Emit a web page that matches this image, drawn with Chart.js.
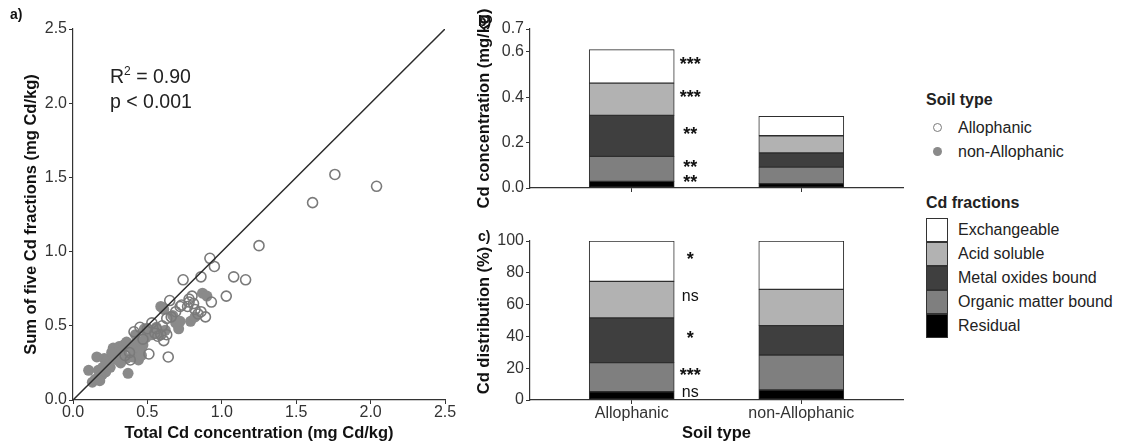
<!DOCTYPE html>
<html>
<head>
<meta charset="utf-8">
<script src="https://cdn.jsdelivr.net/npm/chart.js@4.4.1/dist/chart.umd.min.js"></script>
<style>
  body { margin: 0; background: #fff; font-family: "Liberation Sans", Arial, sans-serif; }
  #wrap { position: relative; width: 1122px; height: 445px; overflow: hidden; }
  canvas { position: absolute; }
  .txt { position: absolute; color: #111; white-space: nowrap; line-height: 1; }
  .bold { font-weight: bold; }
  .panel { font-size: 14px; font-weight: bold; }
  .stat { font-size: 19.5px; color: #222; }
  .leg { font-size: 16px; color: #222; }
  .dot { position: absolute; width: 9px; height: 9px; border-radius: 50%; box-sizing: border-box; }
  .box { position: absolute; width: 22px; height: 24px; box-sizing: border-box; border: 1px solid #333; }
</style>
</head>
<body>
<div id="wrap">
  <canvas id="scatter" width="470" height="445" style="left:0;top:0"></canvas>
  <canvas id="conc" width="440" height="220" style="left:470px;top:0"></canvas>
  <canvas id="dist" width="440" height="235" style="left:470px;top:210px"></canvas>

  <div class="txt panel" style="left:10px;top:7px">a)</div>
  <div class="txt panel" style="left:478px;top:14px">b)</div>
  <div class="txt panel" style="left:478px;top:229px">c)</div>

  <div class="txt stat" style="left:110px;top:65px">R<sup style="font-size:12px;vertical-align:8px">2</sup> = 0.90</div>
  <div class="txt stat" style="left:110px;top:92px">p &lt; 0.001</div>

  <div id="legend"></div>
</div>
<script>
// Soil samples: total Cd vs sum of the five extracted fractions (mg Cd/kg)
const alloTotal = [1.76, 2.04, 1.61, 1.25, 0.92, 0.95, 1.08, 1.16, 0.86, 0.74, 1.03, 0.93, 0.65, 0.80,
  0.78, 0.81, 0.77, 0.82, 0.86, 0.89, 0.69, 0.72, 0.63, 0.66, 0.41, 0.45, 0.59, 0.63, 0.61, 0.64,
  0.51, 0.385, 0.35, 0.56, 0.53, 0.60, 0.50, 0.38, 0.47, 0.57, 0.78, 0.84, 0.73, 0.55];
const alloSum = [1.52, 1.44, 1.33, 1.04, 0.955, 0.90, 0.83, 0.81, 0.83, 0.81, 0.70, 0.66, 0.67, 0.70,
  0.66, 0.65, 0.63, 0.61, 0.595, 0.56, 0.595, 0.63, 0.55, 0.56, 0.46, 0.49, 0.44, 0.44, 0.40, 0.29,
  0.31, 0.27, 0.30, 0.48, 0.52, 0.50, 0.48, 0.32, 0.41, 0.43, 0.68, 0.58, 0.64, 0.45];
const nonAlloTotal = [0.105, 0.13, 0.17, 0.16, 0.21, 0.195, 0.25, 0.27, 0.23, 0.31, 0.34, 0.37, 0.32,
  0.41, 0.44, 0.47, 0.50, 0.52, 0.55, 0.59, 0.61, 0.71, 0.69, 0.79, 0.82, 0.87, 0.90, 0.43, 0.36,
  0.15, 0.18, 0.22, 0.28, 0.26, 0.30, 0.33, 0.39, 0.45, 0.48, 0.53, 0.56, 0.58, 0.62, 0.67, 0.72,
  0.40, 0.36, 0.20, 0.24, 0.46, 0.42, 0.49];
const nonAlloSum = [0.20, 0.12, 0.20, 0.29, 0.28, 0.17, 0.22, 0.35, 0.27, 0.36, 0.37, 0.18, 0.25,
  0.34, 0.27, 0.37, 0.45, 0.47, 0.46, 0.63, 0.61, 0.48, 0.52, 0.53, 0.56, 0.72, 0.70, 0.40, 0.39,
  0.14, 0.13, 0.19, 0.30, 0.32, 0.27, 0.33, 0.35, 0.33, 0.48, 0.44, 0.49, 0.44, 0.47, 0.57, 0.53,
  0.29, 0.28, 0.22, 0.24, 0.30, 0.44, 0.42];
const oneToOne = [0, 2.5];
const scatterTicks = [0, 0.5, 1, 1.5, 2, 2.5];

// Fractions, stacked bottom to top
const soilTypes = ["Allophanic", "non-Allophanic"];
const fractions = ["Residual", "Organic matter bound", "Metal oxides bound", "Acid soluble", "Exchangeable"];
const fractionColors = ["#000000", "#7f7f7f", "#3f3f3f", "#b2b2b2", "#ffffff"];
const concAllo = [0.029, 0.110, 0.181, 0.142, 0.147];
const concNonAllo = [0.019, 0.073, 0.062, 0.076, 0.086];
const pctAllo = [5.2, 18.3, 28.1, 23.0, 25.4];
const pctNonAllo = [6.3, 22.0, 18.5, 22.8, 30.4];
const concSig = ["**", "**", "**", "***", "***"];
const pctSig = ["ns", "***", "*", "ns", "*"];
const concTicks = [0, 0.2, 0.4, 0.6, 0.7];
const pctTicks = [0, 20, 40, 60, 80, 100];

const FONT = '"Liberation Sans", Arial, sans-serif';
Chart.defaults.font.family = FONT;
Chart.defaults.font.size = 16;
Chart.defaults.color = "#333";
Chart.defaults.animation = false;

const AXIS = "#333";

function axis(opts) {
  const s = {
    type: "linear",
    min: opts.min,
    max: opts.max,
    offset: false,
    grid: { display: true, offset: false, drawOnChartArea: false, drawTicks: true, tickLength: 4, color: AXIS },
    border: { display: true, color: AXIS, width: 1.2 },
    ticks: {
      color: "#333",
      font: { size: 16 },
      padding: opts.pad ?? 2,
      autoSkip: false,
      maxRotation: 0,
      display: opts.labels !== false,
      callback: opts.fmt,
    },
    afterBuildTicks: (sc) => { sc.ticks = opts.ticks.map((v) => ({ value: v })); },
    afterFit: (sc) => { if (opts.w) sc.width = opts.w; if (opts.h) sc.height = opts.h; },
    title: opts.title ? {
      display: true,
      text: opts.title,
      color: "#111",
      font: { size: 16.5, weight: "bold" },
      padding: opts.titlePad,
    } : { display: false },
  };
  if (opts.stacked) s.stacked = true;
  return s;
}

const pts = (xs, ys) => xs.map((x, i) => ({ x, y: ys[i] }));

new Chart(document.getElementById("scatter"), {
  type: "scatter",
  data: {
    datasets: [
      {
        type: "line",
        data: pts(oneToOne, oneToOne),
        borderColor: "#2b2b2b",
        borderWidth: 1.5,
        pointRadius: 0,
        order: 0,
      },
      {
        label: "Allophanic",
        data: pts(alloTotal, alloSum),
        pointRadius: 5,
        pointBorderWidth: 1.6,
        pointBorderColor: "#7a7a7a",
        pointBackgroundColor: "rgba(0,0,0,0)",
        order: 1,
      },
      {
        label: "non-Allophanic",
        data: pts(nonAlloTotal, nonAlloSum),
        pointRadius: 5.5,
        pointBorderWidth: 0,
        pointBackgroundColor: "#8a8a8a",
        order: 2,
      },
    ],
  },
  options: {
    responsive: false,
    layout: { padding: { top: 29, right: 25, left: 0, bottom: 0 } },
    plugins: { legend: { display: false }, tooltip: { enabled: false } },
    scales: {
      x: axis({ min: 0, max: 2.5, ticks: scatterTicks, fmt: (v) => v.toFixed(1), h: 45, pad: -1,
        title: "Total Cd concentration (mg Cd/kg)", titlePad: { bottom: 2 } }),
      y: axis({ min: 0, max: 2.5, ticks: scatterTicks, fmt: (v) => v.toFixed(1), w: 73,
        title: "Sum of five Cd fractions (mg Cd/kg)", titlePad: { top: 22 } }),
    },
  },
});

// significance marks next to each Allophanic segment
const sigLabels = {
  id: "sigLabels",
  afterDatasetsDraw(chart, args, opts) {
    const ctx = chart.ctx;
    ctx.save();
    ctx.fillStyle = "#111";
    ctx.textAlign = "center";
    ctx.textBaseline = "middle";
    opts.labels.forEach((txt, i) => {
      const bar = chart.getDatasetMeta(i).data[0];
      const mid = (bar.y + bar.base) / 2;
      const ns = txt === "ns";
      ctx.font = (ns ? "16px " : "bold 18px ") + FONT;
      ctx.fillText(txt, bar.x + bar.width / 2 + 16, mid - (ns ? 3 : 1));
    });
    ctx.restore();
  },
};

function stackedBars(id, allo, nonAllo, yOpts, xOpts, sig, padTop) {
  new Chart(document.getElementById(id), {
    type: "bar",
    data: {
      datasets: fractions.map((f, i) => ({
        label: f,
        data: pts([1, 2], [allo[i], nonAllo[i]]),
        backgroundColor: fractionColors[i],
        borderColor: "#2e2e2e",
        borderWidth: 1,
        borderSkipped: false,
        barThickness: 85,
      })),
    },
    options: {
      responsive: false,
      layout: { padding: { top: padTop, right: 7, left: 0, bottom: 0 } },
      plugins: { legend: { display: false }, tooltip: { enabled: false }, sigLabels: { labels: sig } },
      scales: { x: axis(xOpts), y: axis(yOpts) },
    },
    plugins: [sigLabels],
  });
}

const catFmt = (v) => soilTypes[v - 1] ?? "";

stackedBars("conc", concAllo, concNonAllo,
  { min: 0, max: 0.7, ticks: concTicks, fmt: (v) => v.toFixed(1), w: 60, stacked: true,
    title: "Cd concentration (mg/kg)", titlePad: { top: 5 } },
  { min: 0.4, max: 2.6, ticks: [1, 2], fmt: catFmt, h: 32, labels: false, stacked: true },
  concSig, 29);

stackedBars("dist", pctAllo, pctNonAllo,
  { min: 0, max: 100, ticks: pctTicks, fmt: (v) => String(v), w: 60, stacked: true,
    title: "Cd distribution (%)", titlePad: { top: 5 } },
  { min: 0.4, max: 2.6, ticks: [1, 2], fmt: catFmt, h: 45, pad: 0, stacked: true,
    title: "Soil type", titlePad: { bottom: 1.5 } },
  pctSig, 31);

// legends
const legend = document.getElementById("legend");
function add(html) { legend.insertAdjacentHTML("beforeend", html); }
add('<div class="txt leg bold" style="left:926px;top:92px">Soil type</div>');
add('<div class="dot" style="left:933px;top:123px;border:1.5px solid #7a7a7a"></div>');
add('<div class="txt leg" style="left:958px;top:120px">Allophanic</div>');
add('<div class="dot" style="left:933px;top:147px;background:#8a8a8a"></div>');
add('<div class="txt leg" style="left:958px;top:144px">non-Allophanic</div>');
add('<div class="txt leg bold" style="left:926px;top:195px">Cd fractions</div>');
fractions.slice().reverse().forEach((f, k) => {
  const i = fractions.length - 1 - k;
  const top = 218 + k * 24;
  add(`<div class="box" style="left:926px;top:${top}px;background:${fractionColors[i]}"></div>`);
  add(`<div class="txt leg" style="left:958px;top:${top + 4}px">${f}</div>`);
});
</script>
</body>
</html>
